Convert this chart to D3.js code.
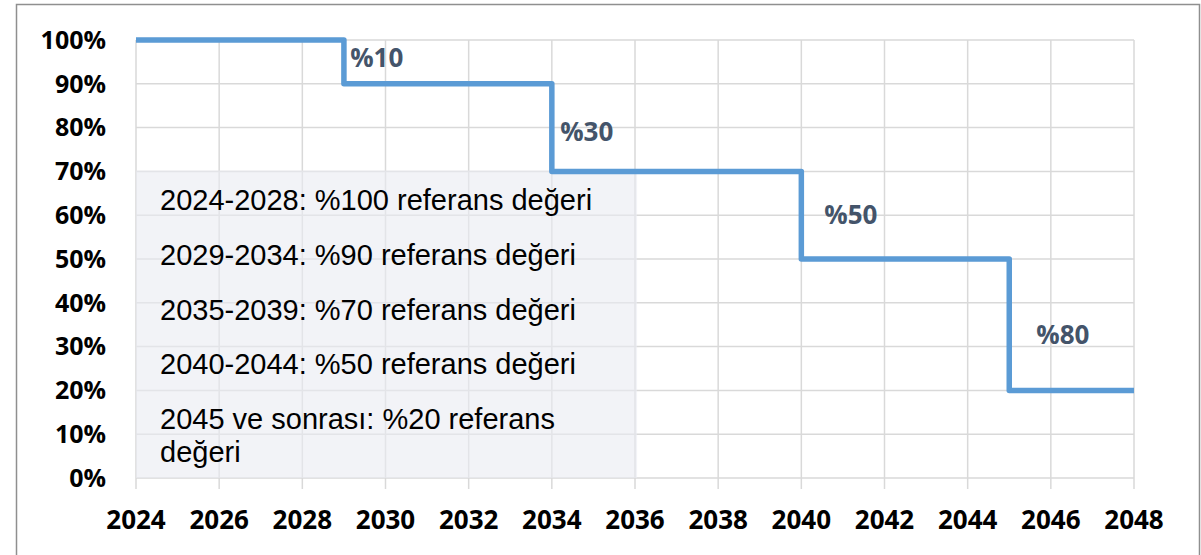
<!DOCTYPE html>
<head>
    <meta charset="utf-8">
    <script src="https://d3js.org/d3.v7.min.js"></script>
    <style>
        body { margin:0; background:#fff; }
        svg { display:block; }
    </style>
</head>
<body>
<div id="chart"></div>
<script>
    // ******************** Data ************************
    var stepYears = [2024, 2029, 2034, 2040, 2045, 2048];
    var stepValues = [100, 90, 70, 50, 20];

    var cutLabels = ["%10", "%30", "%50", "%80"];
    var cutYears = [2029.15, 2034.2, 2040.55, 2045.65];
    var cutValues = [95.9, 79, 60, 32.6];

    var xTicks = d3.range(2024, 2049, 2);
    var yTicks = d3.range(0, 101, 10);

    var noteLines = [
        "2024-2028: %100 referans değeri",
        "2029-2034: %90 referans değeri",
        "2035-2039: %70 referans değeri",
        "2040-2044: %50 referans değeri",
        "2045 ve sonrası: %20 referans",
        "değeri"
    ];
    var noteValues = [63.5, 51, 38.5, 26, 13.4, 6];
    var noteBox = { x0: 2024, x1: 2036.05, y0: 0, y1: 70.2 };

    // ******************** Scales ************************
    var width = 1201, height = 555;
    var x = d3.scaleLinear().domain([2024, 2048]).range([136, 1134]);
    var y = d3.scaleLinear().domain([0, 100]).range([478, 40]);

    var svg = d3.select("#chart").append("svg")
        .attr("width", width)
        .attr("height", height);

    // outer frame
    svg.append("rect")
        .attr("x", 16.5).attr("y", 4.5)
        .attr("width", 1183).attr("height", 570)
        .attr("fill", "none")
        .attr("stroke", "#8f8f8f")
        .attr("stroke-width", 1.5);

    // grid
    var grid = svg.append("g").attr("stroke", "#d9d9d9").attr("stroke-width", 1.5);
    grid.selectAll("line.h").data(yTicks).enter().append("line")
        .attr("x1", x(2024)).attr("x2", x(2048))
        .attr("y1", function (d) { return y(d); })
        .attr("y2", function (d) { return y(d); });
    grid.selectAll("line.v").data(xTicks).enter().append("line")
        .attr("y1", y(100)).attr("y2", y(0) + 11)
        .attr("x1", function (d) { return x(d); })
        .attr("x2", function (d) { return x(d); });

    // note box (semi transparent so grid shows through)
    svg.append("rect")
        .attr("x", x(noteBox.x0)).attr("y", y(noteBox.y1))
        .attr("width", x(noteBox.x1) - x(noteBox.x0))
        .attr("height", y(noteBox.y0) - y(noteBox.y1))
        .attr("fill", "#e9ebf2")
        .attr("fill-opacity", 0.6);

    svg.append("g").selectAll("text").data(noteLines).enter().append("text")
        .attr("x", 160)
        .attr("y", function (d, i) { return y(noteValues[i]); })
        .attr("dy", "0.35em")
        .attr("font-family", "Liberation Sans, Arial, sans-serif")
        .attr("font-size", 29)
        .attr("fill", "#000")
        .text(function (d) { return d; });

    // step line
    var pts = [];
    stepValues.forEach(function (v, i) {
        pts.push([x(stepYears[i]), y(v)]);
        pts.push([x(stepYears[i + 1]), y(v)]);
    });
    svg.append("path")
        .attr("d", d3.line()(pts))
        .attr("fill", "none")
        .attr("stroke", "#5b9bd5")
        .attr("stroke-width", 5.5)
        .attr("stroke-linejoin", "round");

    // cut labels
    svg.append("g").selectAll("text").data(cutLabels).enter().append("text")
        .attr("x", function (d, i) { return x(cutYears[i]); })
        .attr("y", function (d, i) { return y(cutValues[i]); })
        .attr("dy", "0.35em")
        .attr("font-family", "Open Sans, sans-serif")
        .attr("font-weight", 700)
        .attr("font-size", 26)
        .attr("fill", "#44546a")
        .text(function (d) { return d; });

    // axis labels
    svg.append("g").selectAll("text").data(yTicks).enter().append("text")
        .attr("x", 106)
        .attr("y", function (d) { return y(d); })
        .attr("dy", "0.35em")
        .attr("text-anchor", "end")
        .attr("font-family", "Open Sans, sans-serif")
        .attr("font-weight", 700)
        .attr("font-size", 25)
        .attr("fill", "#000")
        .text(function (d) { return d + "%"; });

    svg.append("g").selectAll("text").data(xTicks).enter().append("text")
        .attr("x", function (d) { return x(d); })
        .attr("y", 520)
        .attr("dy", "0.35em")
        .attr("text-anchor", "middle")
        .attr("font-family", "Open Sans, sans-serif")
        .attr("font-weight", 700)
        .attr("font-size", 26)
        .attr("fill", "#000")
        .text(function (d) { return d; });
</script>
</body>
